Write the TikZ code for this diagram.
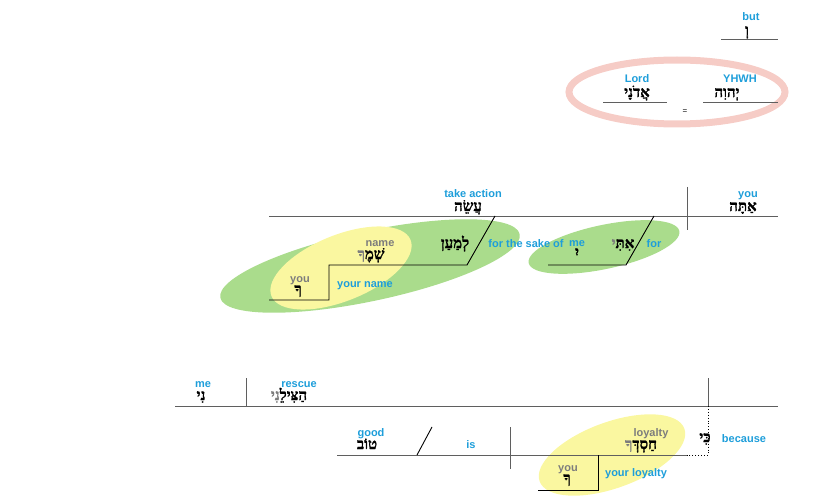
\documentclass[tikz,border=0pt]{standalone}
\usepackage{fontspec}
\setmainfont{Liberation Sans}
\newfontfamily\heb[Script=Hebrew, FakeBold=1.2]{Liberation Serif}
\TeXXeTstate=1
\definecolor{lab}{RGB}{30,158,218}
\definecolor{labgray}{RGB}{125,125,125}
\definecolor{basegray}{RGB}{95,95,95}
\definecolor{greenfill}{RGB}{170,220,140}
\definecolor{yellowfill}{RGB}{250,247,160}
\definecolor{pinkring}{RGB}{246,204,198}
\newcommand{\hebR}[1]{\beginR #1\endR}
\newcommand{\hebsplit}[2]{\hbox{\textcolor{labgray}{\beginR #2\endR}\beginR #1\endR}}
\tikzset{
  en/.style={font=\fontsize{11}{11}\selectfont\bfseries, text=lab, inner sep=0pt, anchor=base},
  gr/.style={font=\fontsize{11}{11}\selectfont\bfseries, text=labgray, inner sep=0pt, anchor=base},
  hb/.style={font=\fontsize{15}{15}\selectfont\heb\bfseries, inner sep=0pt, anchor=base},
  baseln/.style={draw=basegray, line width=1pt},
  subln/.style={draw=black, line width=0.9pt},
}
\begin{document}
\begin{tikzpicture}[x=1pt,y=-1pt]
\useasboundingbox (0,0) rectangle (825,500);
% background highlights
\fill[greenfill] (370,266) ellipse [x radius=153, y radius=35, rotate=12];
\fill[yellowfill] (341,268) ellipse [x radius=75, y radius=33, rotate=22];
\fill[greenfill] (604,247) ellipse [x radius=77, y radius=22, rotate=12];
\fill[yellowfill] (612,455) ellipse [x radius=77, y radius=33, rotate=20];
\draw[pinkring, line width=7pt] (677,92) ellipse [x radius=108, y radius=32];

% coordinates
\coordinate (b1) at (721,40); \coordinate (b2) at (778,40);
\coordinate (l1) at (603,103); \coordinate (l2) at (667,103);
\coordinate (y1) at (703,103); \coordinate (y2) at (778,103);
\coordinate (m1) at (269,216); \coordinate (m2) at (778,216);
\coordinate (d1) at (687,187); \coordinate (d2) at (687,230);
\coordinate (s1) at (495,216); \coordinate (s2) at (467,265);
\coordinate (s3) at (329,265); \coordinate (s4) at (329,300); \coordinate (s5) at (269,300);
\coordinate (f1) at (654,216); \coordinate (f2) at (626,265); \coordinate (f3) at (548,265);
\coordinate (n1) at (175,406); \coordinate (n2) at (778,406);
\coordinate (r1) at (246,378); \coordinate (r2) at (246,406);
\coordinate (k1) at (708,378); \coordinate (k2) at (708,406); \coordinate (k3) at (708,455);
\coordinate (c1) at (337,455); \coordinate (c2) at (687,455);
\coordinate (g1) at (432,427); \coordinate (g2) at (417,455);
\coordinate (i1) at (510,427); \coordinate (i2) at (510,469);
\coordinate (h1) at (598,455); \coordinate (h2) at (598,490); \coordinate (h3) at (538,490);

% lines
\draw[baseln] (b1) -- (b2);
\draw[baseln] (l1) -- (l2);
\draw[baseln] (y1) -- (y2);
\draw[baseln] (m1) -- (m2);
\draw[baseln] (d1) -- (d2);
\draw[subln] (s1) -- (s2) -- (s3) -- (s4) -- (s5);
\draw[subln] (f1) -- (f2) -- (f3);
\draw[baseln] (n1) -- (n2);
\draw[baseln] (r1) -- (r2);
\draw[baseln] (k1) -- (k2);
\draw[black, line width=0.9pt, dotted] (k2) -- (k3) -- (c2);
\draw[baseln] (c1) -- (c2);
\draw[subln] (g1) -- (g2);
\draw[baseln] (i1) -- (i2);
\draw[subln] (h1) -- (h2) -- (h3);

% texts top
\node[en] (tbut) at (751,21) {but};
\node[hb] (hbut) at (747,35) {\hebR{וְ}};
\node[en] (tlord) at (637,83) {Lord};
\node[hb] (hlord) at (637,97) {\hebR{אֲדֹנָי}};
\node[en] (tyhwh) at (740,83) {YHWH};
\node[hb] (hyhwh) at (727,97) {\hebR{יְהוִה}};
\node[font=\fontsize{8}{8}\selectfont, inner sep=0pt] (eq) at (685,112) {=};

% middle
\node[en] (tyou1) at (748,197) {you};
\node[hb] (hyou1) at (743,211) {\hebR{אַתָּה}};
\node[en] (tact) at (473,197) {take action};
\node[hb] (hact) at (468,211) {\hebR{עֲשֵׂה}};
\node[en] (tsake) at (526,247) {for the sake of};
\node[hb] (hsake) at (455,248) {\hebR{לְמַעַן}};
\node[gr] (tname) at (380,246) {name};
\node[hb] (hname) at (371,259) {\hebsplit{שְׁמֶ}{ךָ}};
\node[gr] (tyou2) at (300,282) {you};
\node[hb] (hyou2) at (298,294) {\hebR{ךָ}};
\node[en] (tyname) at (365,287) {your name};
\node[en] (tfor) at (654,247) {for};
\node[hb] (hfor) at (623,248) {\hebsplit{אִתִּ}{י}};
\node[en] (tme1) at (577,246) {me};
\node[hb] (hme1) at (577,257) {\hebR{יִ}};

% bottom
\node[en] (tme2) at (203,387) {me};
\node[hb] (hme2) at (201,400) {\hebR{נִי}};
\node[en] (tres) at (299,387) {rescue};
\node[hb] (hres) at (289,400) {\hebsplit{הַצִּילֵ}{נִי}};
\node[en] (tgood) at (371,436) {good};
\node[hb] (hgood) at (367,449) {\hebR{טוֹב}};
\node[en] (tis) at (471,448) {is};
\node[gr] (tloy) at (651,436) {loyalty};
\node[hb] (hloy) at (641,449) {\hebsplit{חַסְדְּ}{ךָ}};
\node[gr] (tyou3) at (568,471) {you};
\node[hb] (hyou3) at (567,483) {\hebR{ךָ}};
\node[en] (tyloy) at (636,476) {your loyalty};
\node[hb] (hbec) at (705,442) {\hebR{כִּי}};
\node[en] (tbec) at (744,442) {because};
\end{tikzpicture}
\end{document}
